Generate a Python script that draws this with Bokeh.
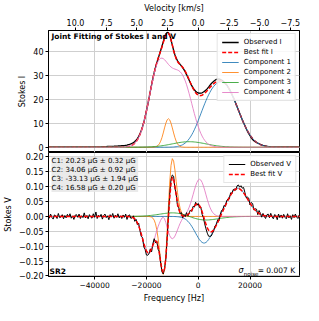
import numpy as np
from bokeh.plotting import figure
from bokeh.models import (Range1d, LinearAxis, Legend, LegendItem, Label,
                          FixedTicker, CustomJSTickFormatter, AllLabels)
from bokeh.layouts import column
from bokeh.embed import file_html
from bokeh.resources import INLINE

FONT = "DejaVu Sans"

# ---------------- data ----------------
freq_start_khz = -58.0          # first channel
chan_width_khz = 0.5            # channel spacing
n_chan = 196
x_lim_hz = [-57800, 39100]
khz_to_kms = 0.21106            # HI line: km/s per kHz

comp_labels = ["Component 1", "Component 2", "Component 3", "Component 4"]
comp_colors = ["#1f77b4", "#ff7f0e", "#2ca02c", "#e377c2"]

# Stokes I: Gaussian terms of each component (amplitude K, centre kHz, sigma kHz)
I_amp = [[25.0, 8.0], [11.9], [2.3], [33.0, 28.5]]
I_cen = [[10.0, 3.0], [-11.5], [-3.5], [-15.2, -6.5]]
I_sig = [[5.6, 4.0], [1.7], [6.5], [3.8, 4.2]]

# Stokes V: derivative-shaped terms (peak K, centre kHz, sigma kHz)
Vd_amp = [[], [0.195], [-0.012], []]
Vd_cen = [[], [-11.7], [-3.5], []]
Vd_sig = [[], [1.8], [6.5], []]
# Stokes V: single lobes (peak K, centre kHz, sigma kHz)
Vg_amp = [[-0.09, 0.095], [], [], [-0.125, 0.02, -0.075, 0.125]]
Vg_cen = [[2.3, 15.2], [], [], [-19.2, -13.2, -10.0, 0.5]]
Vg_sig = [[3.4, 3.9], [], [], [2.3, 1.0, 2.0, 2.4]]

B_lines = ["C1: 20.23 \u03bcG \u00b1 0.32 \u03bcG",
           "C2: 34.06 \u03bcG \u00b1 0.92 \u03bcG",
           "C3: -33.13 \u03bcG \u00b1 1.94 \u03bcG",
           "C4: 16.58 \u03bcG \u00b1 0.20 \u03bcG"]

# observed minus model, per channel (Stokes I in 0.1 K, Stokes V in mK)
I_resid_dK = ([1] * 40 +
              [1, 1, 2, 2, 2, 2, 3, 3, 3, 3,
               3, 4, 4, 4, 5, 5, 5, 6, 6, 6,
               7, 7, 8, 8, 8, 8, 7, 7, 6, 5,
               4, 3, 2, 1, 0, 0, 0, -1, -1, 0,
               0, 0, 0, 0, 0, 0, 1, 2, 3, 4,
               4, 4, 3, 2, 1, 0, 0, 1, 2, 3,
               3, 2, 1, 0, -1, -2, -3, -3, -3, -2,
               -1, 0, 2, 4, 6, 8, 9, 10, 10, 10,
               10, 9, 8, 8, 8, 9, 10, 10, 10, 10,
               10, 9, 8, 6, 4, 3, 2, 1, 1, 0,
               0, 0, 0, 0, 0, 0, 0, 0, 0, 0,
               0, 0, 0, -1, -2, -3, -3, -4, -4, -3,
               -2, -1, 0, 1, 1, 1, 1, 1, 1, 1] +
              [1] * 26)
V_resid_mK = [4, -6, 8, -3, -9, 5, 2, -7, 10, -4, -2, 6, -8, 3,
              -5, 7, -2, 9, -6, 1, -10, 4, 6, -3, 8, -7, 2, -4,
              12, -5, 3, -8, 6, -2, -6, 9, -3, 15, -7, 4, -1, 7,
              -9, 3, 8, -4, 2, -11, 6, -2, 10, -6, 4, -3, 9, -5,
              2, -7, 5, -3, 8, -10, 3, 6, -5, -2, 7, -8, 4, -6,
              9, -4, -8, 3, -12, -6, -14, -9, -3, 8, -11, 5, 12, -7,
              4, -9, 6, -3, -8, -5, 2, -6, 4, 9, 12, 14, 8, 10,
              -6, 3, -9, 5, -2, 8, -7, 4, -3, 9, -5, 2, 7, -4,
              6, -3, 8, -5, 2, -7, 4, -9, -6, -12, -15, -18, -20, -16,
              -14, -8, -3, 6, 2, 9, -4, 8, 12, 5, 10, -3, 7, 4,
              -5, 8, -2, 6, 3, -4, 9, 12, 6, 14, 10, 18, 8, -3,
              6, 10, -6, 9, 12, -4, 5, 8, -7, 10, 3, -8, 6, -3,
              -9, 4, 7, -5, 10, -2, -8, 6, 3, -11, 8, -4, 5, -6,
              7, -3, -8, 9, -5, 2, -10, 6, -4, 8, -2, -7, 5, 3]

x_ticks = [-40000, -20000, 0, 20000]
vel_ticks = [10.0, 7.5, 5.0, 2.5, 0.0, -2.5, -5.0, -7.5]
I_ticks = [0, 10, 20, 30, 40]
V_ticks = [-0.20, -0.15, -0.10, -0.05, 0.0, 0.05, 0.10, 0.15, 0.20]

# ---------------- model evaluation ----------------
fk = freq_start_khz + chan_width_khz * np.arange(n_chan)
fhz = fk * 1000.0


def gauss(a, c, s):
    return a * np.exp(-0.5 * ((fk - c) / s) ** 2)


def dgauss(a, c, s):
    u = (fk - c) / s
    return a * u * np.exp(0.5 - 0.5 * u * u)


I_comp, V_comp = [], []
for i in range(4):
    yi = np.zeros_like(fk)
    for a, c, s in zip(I_amp[i], I_cen[i], I_sig[i]):
        yi = yi + gauss(a, c, s)
    I_comp.append(yi)
    yv = np.zeros_like(fk)
    for a, c, s in zip(Vd_amp[i], Vd_cen[i], Vd_sig[i]):
        yv = yv + dgauss(a, c, s)
    for a, c, s in zip(Vg_amp[i], Vg_cen[i], Vg_sig[i]):
        yv = yv + gauss(a, c, s)
    V_comp.append(yv)

fit_I = I_comp[0] + I_comp[1] + I_comp[2] + I_comp[3]
fit_V = V_comp[0] + V_comp[1] + V_comp[2] + V_comp[3]
obs_I = fit_I + 0.1 * np.array(I_resid_dK)
obs_V = fit_V + 0.001 * np.array(V_resid_mK)

# ---------------- styling helpers ----------------


def fmt(nd):
    return CustomJSTickFormatter(
        code="return tick.toFixed(%d).replace('-', '\u2212');" % nd)


def style_axis(ax, ticker, nd, label, size="8px"):
    ax.ticker = ticker
    ax.formatter = fmt(nd)
    ax.major_label_policy = AllLabels()
    ax.axis_label = label
    ax.axis_label_text_font = FONT
    ax.axis_label_text_font_size = "8px"
    ax.axis_label_text_font_style = "normal"
    ax.axis_label_text_color = "black"
    ax.axis_label_standoff = 3
    ax.major_label_text_font = FONT
    ax.major_label_text_font_size = size
    ax.major_label_text_color = "black"
    ax.major_label_standoff = 2
    ax.major_tick_out = 3
    ax.major_tick_in = 0
    ax.minor_tick_out = 0
    ax.minor_tick_in = 0
    ax.axis_line_color = "black"
    ax.major_tick_line_color = "black"
    return ticker


def style_fig(p):
    p.outline_line_color = "black"
    p.outline_line_alpha = 1.0
    p.outline_line_width = 1
    p.background_fill_color = "white"
    p.border_fill_color = "white"
    for g in (p.xgrid, p.ygrid):
        g.grid_line_color = "#cfcfcf"
        g.grid_line_width = 1


W = 303
LB = 44
RB = 4

# ---------------- top panel: Stokes I ----------------
p1 = figure(width=W, height=152, x_range=Range1d(x_lim_hz[0], x_lim_hz[1]),
            y_range=Range1d(-2.2, 48.7), output_backend="svg",
            toolbar_location=None, min_border_left=LB, min_border_right=RB,
            min_border_top=0, min_border_bottom=0)
p1.xaxis.visible = False
style_fig(p1)
p1.xgrid.ticker = FixedTicker(ticks=x_ticks)
p1.ygrid.ticker = style_axis(p1.yaxis[0], FixedTicker(ticks=I_ticks), 0,
                             "Stokes I")
p1.extra_x_ranges = {"vel": Range1d(-x_lim_hz[0] / 1000.0 * khz_to_kms,
                                    -x_lim_hz[1] / 1000.0 * khz_to_kms)}
vax = LinearAxis(x_range_name="vel")
style_axis(vax, FixedTicker(ticks=vel_ticks), 1, "Velocity [km/s]")
p1.add_layout(vax, "above")

r_obs_I = p1.line(fhz, obs_I, line_color="black", line_width=1.3)
r_fit_I = p1.line(fhz, fit_I, line_color="red", line_width=1.5, line_dash="4 2")
r_comp_I = []
for i in range(4):
    r_comp_I.append(p1.line(fhz, I_comp[i], line_color=comp_colors[i],
                            line_width=1, line_alpha=0.85))
leg1 = Legend(items=[LegendItem(label="Observed I", renderers=[r_obs_I]),
                     LegendItem(label="Best fit I", renderers=[r_fit_I])] +
              [LegendItem(label=comp_labels[i], renderers=[r_comp_I[i]])
               for i in range(4)],
              location="top_right")
p1.add_layout(leg1)
p1.add_layout(Label(x=x_lim_hz[0], y=48.7, x_offset=3, y_offset=-1,
                    text="Joint Fitting of Stokes I and V",
                    text_baseline="top", text_font=FONT,
                    text_font_size="7.5px", text_font_style="bold",
                    text_color="black"))

# ---------------- bottom panel: Stokes V ----------------
p2 = figure(width=W, height=153, x_range=p1.x_range,
            y_range=Range1d(-0.202, 0.215), output_backend="svg",
            toolbar_location=None, min_border_left=LB, min_border_right=RB,
            min_border_top=0, min_border_bottom=0)
style_fig(p2)
p2.xgrid.ticker = style_axis(p2.xaxis[0], FixedTicker(ticks=x_ticks), 0,
                             "Frequency [Hz]", size="7.5px")
p2.ygrid.ticker = style_axis(p2.yaxis[0], FixedTicker(ticks=V_ticks), 2,
                             "Stokes V")

for i in range(4):
    p2.line(fhz, V_comp[i], line_color=comp_colors[i], line_width=1,
            line_alpha=0.85)
r_obs_V = p2.line(fhz, obs_V, line_color="black", line_width=1)
r_fit_V = p2.line(fhz, fit_V, line_color="red", line_width=1.5, line_dash="4 2")
leg2 = Legend(items=[LegendItem(label="Observed V", renderers=[r_obs_V]),
                     LegendItem(label="Best fit V", renderers=[r_fit_V])],
              location="top_right")
p2.add_layout(leg2)

for leg in (leg1, leg2):
    leg.label_text_font = FONT
    leg.label_text_font_size = "7px"
    leg.label_text_color = "black"
    leg.glyph_width = 17
    leg.glyph_height = 8
    leg.label_height = 8
    leg.spacing = 2
    leg.padding = 4
    leg.margin = 3
    leg.label_standoff = 5
    leg.border_line_color = "#cccccc"
    leg.border_line_width = 1
    leg.background_fill_alpha = 0.85

p2.add_layout(Label(x=x_lim_hz[0], y=0.215, x_offset=3, y_offset=-4,
                    text="\n".join(B_lines), text_baseline="top",
                    text_font=FONT, text_font_size="7px", text_color="black",
                    background_fill_color="#e6e6e6", background_fill_alpha=0.85,
                    text_line_height=1.15))
p2.add_layout(Label(x=x_lim_hz[0], y=-0.202, x_offset=1, y_offset=1,
                    text="SR2", text_baseline="bottom", text_font=FONT,
                    text_font_size="7.5px", text_font_style="bold",
                    text_color="black"))
# sigma_noise annotation
p2.add_layout(Label(x=x_lim_hz[1], y=-0.202, x_offset=-2, y_offset=2,
                    text=" = 0.007 K", text_align="right",
                    text_baseline="bottom", text_font=FONT,
                    text_font_size="7.5px", text_color="black"))
p2.add_layout(Label(x=x_lim_hz[1], y=-0.202, x_offset=-41, y_offset=0,
                    text="noise", text_align="right",
                    text_baseline="bottom", text_font=FONT,
                    text_font_size="5.5px", text_color="black"))
p2.add_layout(Label(x=x_lim_hz[1], y=-0.202, x_offset=-56, y_offset=2,
                    text="\u03c3", text_align="right",
                    text_baseline="bottom", text_font=FONT,
                    text_font_size="8px", text_font_style="italic",
                    text_color="black"))

layout = column(p1, p2, spacing=0)
open("out.html", "w").write(file_html(layout, INLINE))
